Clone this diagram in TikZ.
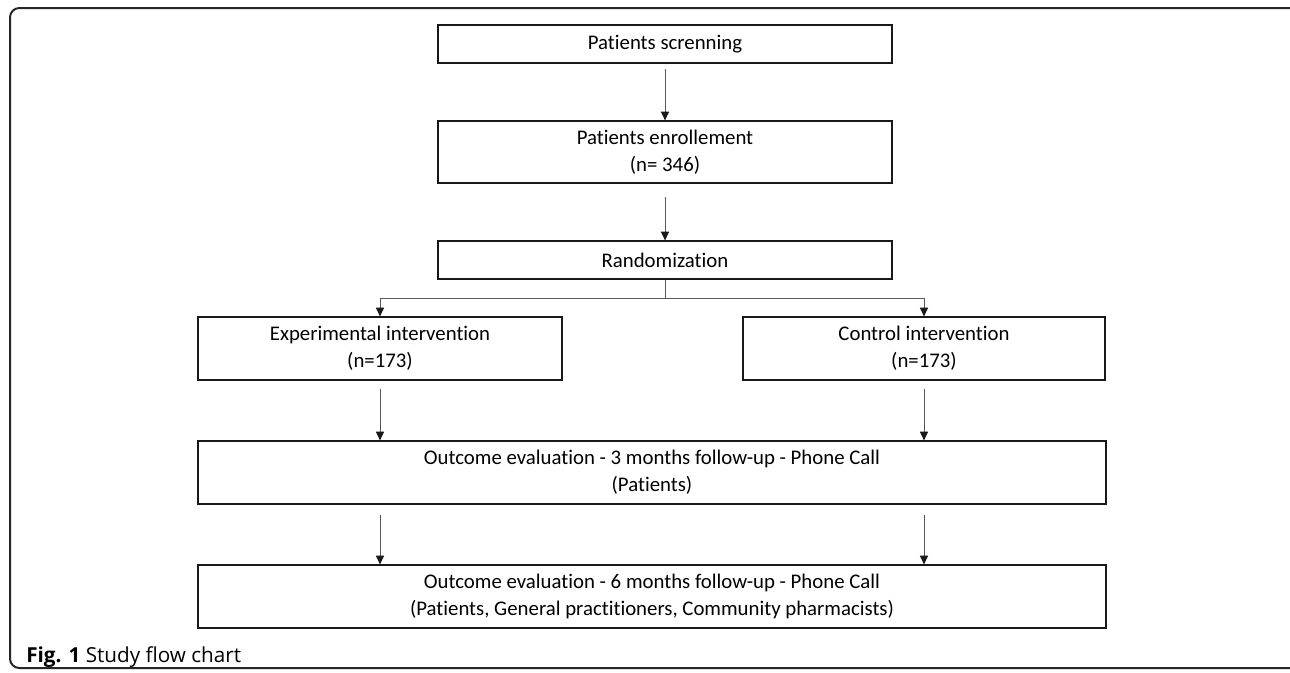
\documentclass[tikz,border=0pt]{standalone}
\usepackage{fontspec}
\setmainfont{Carlito}[Ligatures=NoCommon]
\newfontfamily\capfont{Open Sans}
\usetikzlibrary{arrows.meta}
\begin{document}
\begin{tikzpicture}[x=0.75pt,y=-0.75pt,
  fbox/.style={draw=black!90, line width=0.9pt, align=center, inner sep=0pt,
    font=\fontsize{15.6}{20}\selectfont},
  arr/.style={draw=black!65, line width=0.75pt, -{Triangle[width=6pt,length=6.5pt,color=black!90]}},
  link/.style={draw=black!65, line width=0.75pt}]
\clip (0,0) rectangle (1290,672);
\fill[white] (0,0) rectangle (1290,672);
\draw[line width=1.5pt, draw=black!85, rounded corners=7pt] (10,8) rectangle (1310,668);

\node[fbox, minimum width=340.5pt, minimum height=28.5pt] (scr) at (665,44) {Patients screnning};
\node[fbox, minimum width=340.5pt, minimum height=46.5pt] (enr) at (665,152) {Patients enrollement\\(n= 346)};
\node[fbox, minimum width=340.5pt, minimum height=28.5pt] (rnd) at (665,260) {Randomization};
\node[fbox, minimum width=273pt, minimum height=47.25pt] (exp) at (380,348.5) {Experimental intervention\\(n=173)};
\node[fbox, minimum width=271.5pt, minimum height=47.25pt] (ctl) at (924,348.5) {Control intervention\\(n=173)};
\node[fbox, minimum width=681pt, minimum height=47.25pt] (m3) at (652,472.5) {Outcome evaluation - 3 months follow-up - Phone Call\\(Patients)};
\node[fbox, minimum width=681pt, minimum height=47.25pt] (m6) at (652,596.5) {Outcome evaluation - 6 months follow-up - Phone Call\\(Patients, General practitioners, Community pharmacists)};

\coordinate (br) at (665,298);

\draw[arr, shorten <=3.75pt] (scr.south) -- (enr.north);
\draw[arr, shorten <=9.75pt] (enr.south) -- (rnd.north);
\draw[link] (rnd.south) -- (br);
\draw[arr] (br) -| (exp.north);
\draw[arr] (br) -| (ctl.north);
\draw[arr, shorten <=6pt] (exp.south) -- (exp.south |- m3.north);
\draw[arr, shorten <=6pt] (ctl.south) -- (ctl.south |- m3.north);
\draw[arr, shorten <=8pt] (m3.south -| exp.south) -- (m6.north -| exp.south);
\draw[arr, shorten <=8pt] (m3.south -| ctl.south) -- (m6.north -| ctl.south);

\node[anchor=base west, inner sep=0pt, font=\capfont\fontsize{15.5}{18}\selectfont] (cap) at (26,662) {\textbf{Fig. 1} Study flow chart};
\end{tikzpicture}
\end{document}
